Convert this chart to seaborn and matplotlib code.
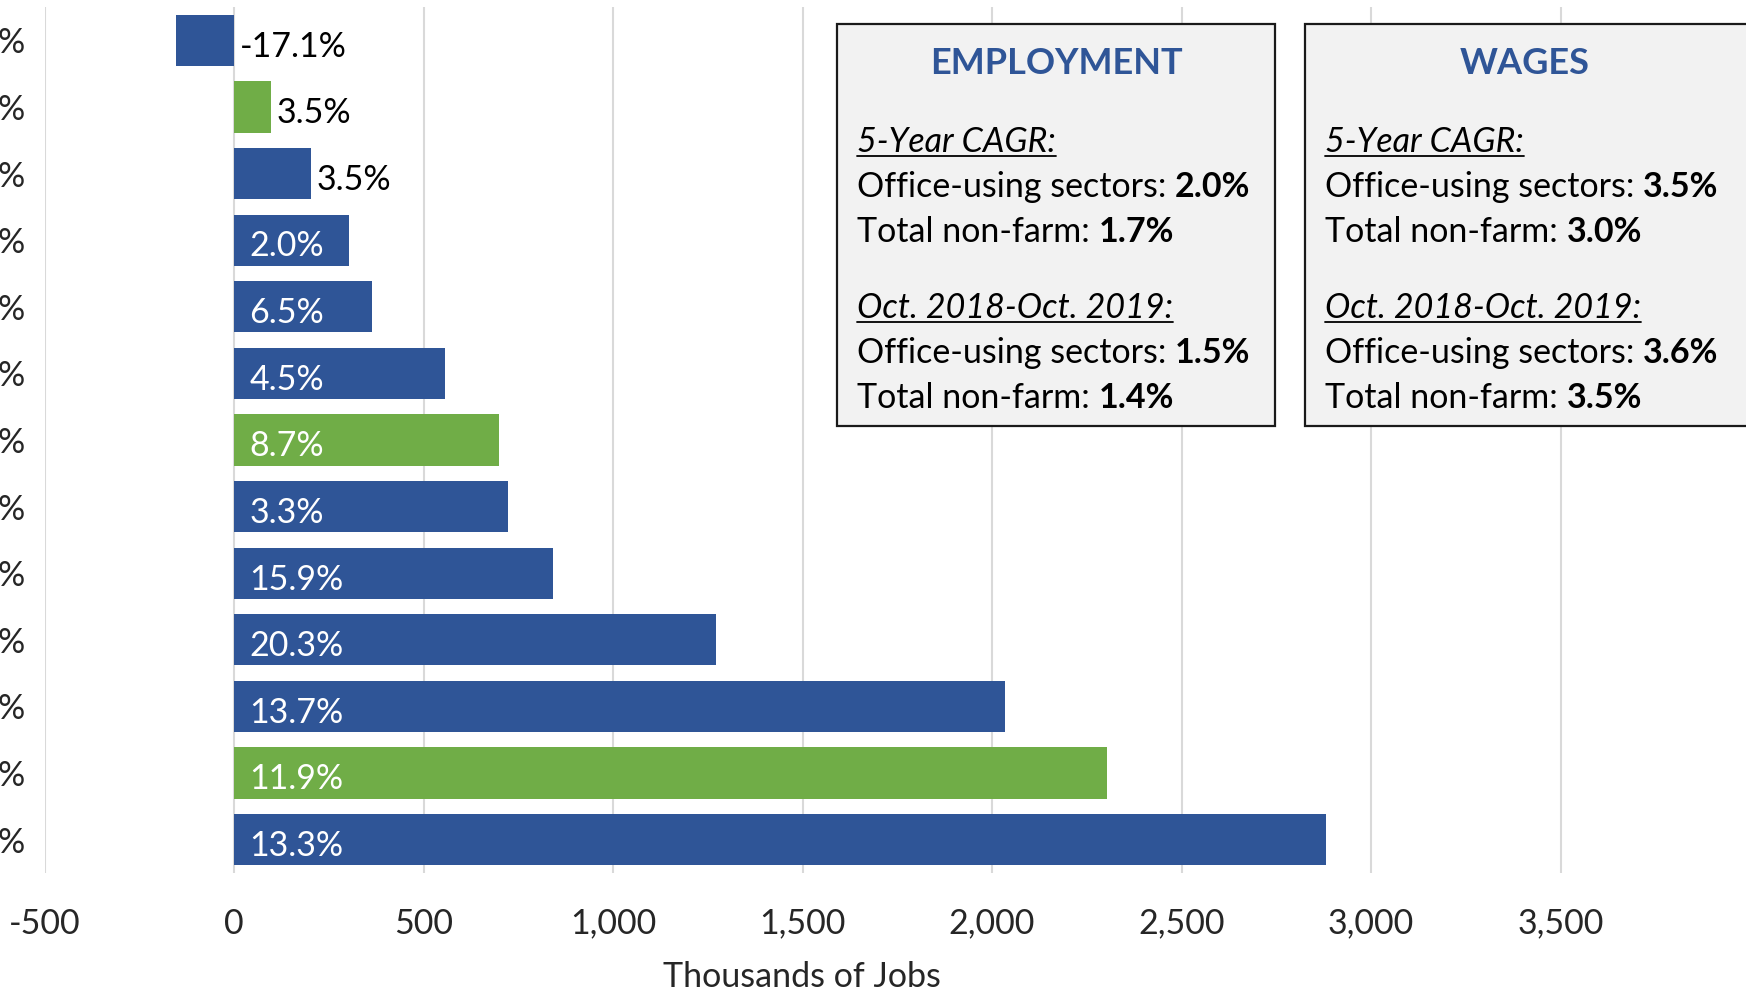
import numpy as np
import pandas as pd
import matplotlib
matplotlib.use("Agg")
import matplotlib.pyplot as plt
import seaborn as sns
from matplotlib.patches import Rectangle

# ---------------- data ----------------
categories = [f"s{i}" for i in range(1, 14)]
values = [-153, 97, 203, 303, 365, 556, 700, 723, 841, 1271, 2035, 2303, 2882]
pct_labels = ["-17.1%", "3.5%", "3.5%", "2.0%", "6.5%", "4.5%", "8.7%",
              "3.3%", "15.9%", "20.3%", "13.7%", "11.9%", "13.3%"]
groups = ["blue", "green", "blue", "blue", "blue", "blue", "green",
          "blue", "blue", "blue", "blue", "green", "blue"]
ytick_text = ["%"] * 13
xticks = [-500, 0, 500, 1000, 1500, 2000, 2500, 3000, 3500]
xtick_labels = ["-500", "0", "500", "1,000", "1,500", "2,000", "2,500", "3,000", "3,500"]

emp_title = "EMPLOYMENT"
wage_title = "WAGES"
emp_lines = [("5-Year CAGR:", None), ("Office-using sectors: ", "2.0%"), ("Total non-farm: ", "1.7%"),
             ("Oct. 2018-Oct. 2019:", None), ("Office-using sectors: ", "1.5%"), ("Total non-farm: ", "1.4%")]
wage_lines = [("5-Year CAGR:", None), ("Office-using sectors: ", "3.5%"), ("Total non-farm: ", "3.0%"),
              ("Oct. 2018-Oct. 2019:", None), ("Office-using sectors: ", "3.6%"), ("Total non-farm: ", "3.5%")]

BLUE = "#2F5597"
GREEN = "#70AD47"
FS = 24.5

sns.set_theme(style="white")
plt.rcParams["font.family"] = ["Lato", "DejaVu Sans"]

W, H = 1746, 992
fig = plt.figure(figsize=(W / 100, H / 100), dpi=100)

def fx(px):
    return px / W

def fy(py):
    return 1 - py / H

ax_left, ax_right, ax_top, ax_bot = 44.5, 1750.0, 7.0, 873.0
ax = fig.add_axes([fx(ax_left), fy(ax_bot), fx(ax_right - ax_left), (ax_bot - ax_top) / H])

df = pd.DataFrame({"cat": categories, "val": values, "grp": groups})
sns.barplot(data=df, x="val", y="cat", hue="grp", palette={"blue": BLUE, "green": GREEN},
            dodge=False, width=0.77, orient="h", ax=ax, legend=False, zorder=3,
            saturation=1.0, linewidth=0)

ax.set_xlim(-500, 4000)
ax.set_ylim(12.5, -0.5)
for s in ax.spines.values():
    s.set_visible(False)
ax.set_xticks(xticks)
ax.set_xticklabels(xtick_labels, fontsize=FS)
ax.grid(axis="x", color="#D9D9D9", linewidth=1.5, zorder=0)
ax.grid(axis="y", visible=False)
ax.set_axisbelow(True)
ax.tick_params(axis="x", length=0, pad=25)
ax.set_yticks(range(13))
ax.set_yticklabels(ytick_text, fontsize=FS)
ax.tick_params(axis="y", length=0, pad=14)
ax.set_ylabel("")
ax.set_xlabel("Thousands of Jobs", fontsize=FS, va="center")
ax.xaxis.set_label_coords((802 - ax_left) / (ax_right - ax_left), -(977 - ax_bot) / (ax_bot - ax_top))

# bar labels
for i, (v, lab) in enumerate(zip(values, pct_labels)):
    if v < 250:
        ax.text(max(v, 0) + 15, i + 0.05, lab, ha="left", va="center_baseline", fontsize=FS,
                color="black", zorder=4)
    else:
        ax.text(40, i + 0.05, lab, ha="left", va="center_baseline", fontsize=FS,
                color="white", zorder=4)

# info boxes
renderer = fig.canvas.get_renderer()

def draw_box(x0, x1, y0, y1, title, lines, title_cx, text_x):
    fig.add_artist(Rectangle((fx(x0), fy(y1)), fx(x1 - x0), (y1 - y0) / H,
                             transform=fig.transFigure, facecolor="#F2F2F2",
                             edgecolor="#1a1a1a", linewidth=1.6, zorder=5))
    fig.text(fx(title_cx), fy(63), title, ha="center", va="center", fontsize=26,
             fontweight="bold", color=BLUE, zorder=6)
    ys = [143, 188, 233, 309, 354, 399]
    for (norm, bold), yc in zip(lines, ys):
        yb = yc + 9
        if bold is None:
            t = fig.text(fx(text_x), fy(yb), norm, ha="left", va="baseline", fontsize=FS,
                         fontstyle="italic", color="black", zorder=6)
            bb = t.get_window_extent(renderer)
            fig.add_artist(plt.Line2D([fx(text_x), fx(text_x) + bb.width / W],
                                      [fy(yb + 4), fy(yb + 4)], transform=fig.transFigure,
                                      color="black", linewidth=1.3, zorder=6))
        else:
            t = fig.text(fx(text_x), fy(yb), norm, ha="left", va="baseline", fontsize=FS,
                         color="black", zorder=6)
            bb = t.get_window_extent(renderer)
            fig.text(fx(text_x) + bb.width / W, fy(yb), bold, ha="left", va="baseline",
                     fontsize=FS, fontweight="bold", color="black", zorder=6)

draw_box(837, 1275, 24.5, 426, emp_title, emp_lines, 1056, 857)
draw_box(1305, 1760, 24.5, 426, wage_title, wage_lines, 1525, 1325)

fig.savefig("out.png", dpi=100)
